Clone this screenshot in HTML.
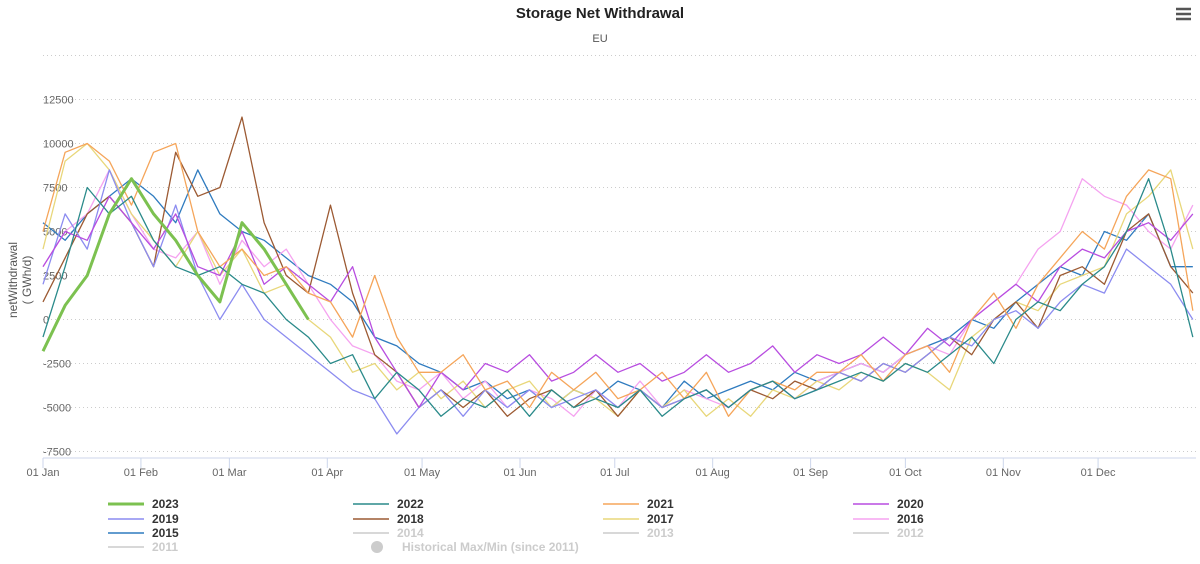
<!DOCTYPE html>
<html><head><meta charset="utf-8"><style>
body{margin:0;background:#fff;font-family:"Liberation Sans",sans-serif}
svg text{font-family:"Liberation Sans",sans-serif}
</style></head><body>
<svg id="c" width="1200" height="559">
<text x="600" y="18" text-anchor="middle" font-size="15" font-weight="bold" fill="#222">Storage Net Withdrawal</text>
<text x="600" y="42" text-anchor="middle" font-size="11" fill="#555">EU</text>
<g stroke="#555" stroke-width="2.5"><line x1="1176" y1="9" x2="1191" y2="9"/><line x1="1176" y1="14" x2="1191" y2="14"/><line x1="1176" y1="19" x2="1191" y2="19"/></g>
<text transform="translate(17,280) rotate(-90)" text-anchor="middle" font-size="12" fill="#555"><tspan x="0" dy="0">netWithdrawal</tspan><tspan x="0" dy="14">( GWh/d)</tspan></text>
<g id="grid"></g><g id="series"></g><g id="legend"></g>
</svg>
<script>
const yTicks=[15000,12500,10000,7500,5000,2500,0,-2500,-5000,-7500];
const xTickLabels=["01 Jan","01 Feb","01 Mar","01 Apr","01 May","01 Jun","01 Jul","01 Aug","01 Sep","01 Oct","01 Nov","01 Dec"];
const xTickDays=[0,31,59,90,120,151,181,212,243,273,304,334];
const stepDays=7;
const years=["2023","2022","2021","2020","2019","2018","2017","2016","2015"];
const colors=["#7cc150","#2a8a8a","#f5a55a","#b84de0","#8c8cf0","#9c5a33","#e8d77a","#f5a3f0","#2f7bbf"];
const s2023=[-1.8,0.8,2.5,6,8,6,4.5,2.5,1,5.5,4,2,0];
const s2022=[-1,3,7.5,6,7,4.5,3,2.5,3,2,1.5,0,-1,-2.5,-2,-4.5,-3,-4,-5.5,-4.5,-5,-4,-5.5,-4,-5,-4.5,-5,-4,-5.5,-4.5,-4,-5,-4,-3.5,-4.5,-4,-3.5,-3,-3.5,-2.5,-3,-2,-1,-2.5,0,1,0.5,2,3,5,8,4,-1];
const s2021=[5,9.5,10,9,6.5,9.5,10,5,3,4,2.5,3,1.5,1,-1,2.5,-1,-3,-3,-2,-4,-3.5,-5,-3,-4,-3,-4.5,-4,-3,-4.5,-3,-5.5,-4,-3.5,-4,-3,-3,-2,-3.5,-2,-1.5,-3,0,1.5,-0.5,2,3.5,5,4,7,8.5,8,0.5];
const s2020=[3,5,4.5,7,5.5,4,6,3,2.5,5,2,3,2,1,3,-1,-3,-5,-3,-4,-2.5,-3,-2,-3.5,-3,-2,-3,-2.5,-3.5,-3,-2,-3,-2.5,-1.5,-3,-2,-2.5,-2,-1,-2,-0.5,-1.5,0,1,2,1,3,4,3.5,5,5.5,4.5,6];
const s2019=[2,6,4,8.5,5.5,3,6.5,2.5,0,2,0,-1,-2,-3,-4,-4.5,-6.5,-5,-4,-5.5,-4,-5,-4,-5,-4.5,-4,-5,-4,-5,-4.5,-4,-5,-4,-3.5,-4.5,-4,-3,-3.5,-2.5,-3,-2,-1,-1.5,0,0.5,-0.5,1,2,1.5,4,3,2,0];
const s2018=[1,3.5,6,7,5.5,3,9.5,7,7.5,11.5,5.5,2.5,1.5,6.5,1.5,-2,-3,-5,-4,-5,-4,-5.5,-4.5,-4,-5,-4,-5.5,-4,-5,-4.5,-4,-5,-4,-4.5,-3.5,-4,-3,-3.5,-2.5,-3,-2,-1,-2,0,1,-0.5,2.5,3,2,5,6,3,1.5];
const s2017=[4,9,10,8.5,6,4.5,3,5,2.5,4,1.5,2,0,-1,-3,-2.5,-4,-3,-4.5,-3.5,-5,-4,-3.5,-5,-4,-4.5,-5.5,-4,-5,-4,-5.5,-4.5,-5.5,-4,-4.5,-3.5,-4,-3,-3.5,-2.5,-3,-4,-1,0,1,0.5,2,2.5,3,6,7,8.5,4];
const s2016=[3,5,6,8.5,6,4,3.5,5,2,4.5,3,4,2,0,-1.5,-2,-3.5,-4,-3,-4.5,-3.5,-5,-4,-4.5,-5.5,-4,-5,-3.5,-5,-4,-4.5,-5,-4,-3.5,-4.5,-3.5,-3,-2.5,-3,-2,-1.5,-2,0,1,2,4,5,8,7,6.5,5,4,6.5];
const s2015=[5.5,4.5,6,7,8,7,5.5,8.5,6,5,4.5,3.5,2.5,2,1,-1,-1.5,-2.5,-3,-4,-3.5,-4.5,-4,-5,-4,-4.5,-3.5,-4,-5,-3.5,-4.5,-4,-3.5,-4,-3,-3.5,-3,-2.5,-3,-2,-1.5,-1,0,-0.5,1,2,3,2.5,5,4.5,6,3,3];
const seriesData=[s2023,s2022,s2021,s2020,s2019,s2018,s2017,s2016,s2015];
const legendInactive=["2014","2013","2012","2011"];
const X0=43,X1=1196,Y0=319.5,PX=0.0176;
const xS=d=>X0+d*(X1-X0)/365;
const yS=v=>Y0-v*PX;
const ns="http://www.w3.org/2000/svg";
function mk(t,a,p){const e=document.createElementNS(ns,t);for(const k in a)e.setAttribute(k,a[k]);p.appendChild(e);return e;}
const grid=document.getElementById('grid');
yTicks.forEach(v=>{
  const l=mk('line',{x1:X0,x2:X1,y1:yS(v),y2:yS(v),stroke:'#ccc','stroke-dasharray':'1,3'},grid);
  
  
  if(v<15000){const t=mk('text',{x:X0,y:yS(v)+4,'font-size':11,fill:'#666'},grid);t.textContent=v;
  
  }
});
const ax=mk('line',{x1:X0,x2:X1,y1:458,y2:458,stroke:'#ccd6eb'},grid);


xTickDays.forEach((d,i)=>{
  mk('line',{x1:xS(d),x2:xS(d),y1:458,y2:468,stroke:'#ccd6eb'},grid);
  const t=mk('text',{x:xS(d),y:476,'font-size':11,fill:'#666','text-anchor':'middle'},grid);t.textContent=xTickLabels[i];
  
  
});
const sg=document.getElementById('series');
for(let k=seriesData.length-1;k>=0;k--){
  const pts=seriesData[k].map((v,i)=>xS(Math.min(i*stepDays,364))+','+yS(v*1000)).join(' ');
  const p=mk('polyline',{points:pts,fill:'none',stroke:colors[k],'stroke-width':k===0?3:1.3,'stroke-linejoin':'round'},sg);
  
  
}
const lg=document.getElementById('legend');
const cols=[108,353,603,853],rows=[504,519,533,547];
const items=years.map((y,i)=>({y,c:colors[i],a:true})).concat(legendInactive.map(y=>({y,c:'#ccc',a:false})));
items.splice(13,0,{y:'Historical Max/Min (since 2011)',c:'#ccc',a:false,dot:true});
items.forEach((it,i)=>{
  const g=mk('g',{},lg);
  
  
  const x=cols[i%4],y=rows[Math.floor(i/4)];
  if(it.dot)mk('circle',{cx:x+270-0+0,cy:y,r:6,fill:'#ccc'},g).setAttribute('cx',377);
  else mk('line',{x1:x,x2:x+36,y1:y,y2:y,stroke:it.c,'stroke-width':it.y==='2023'?3:1.5},g);
  const t=mk('text',{x:it.dot?402:x+44,y:y+4,'font-size':12,'font-weight':'bold',fill:it.a?'#333':'#ccc'},g);t.textContent=it.y;
});
</script>
</body></html>
